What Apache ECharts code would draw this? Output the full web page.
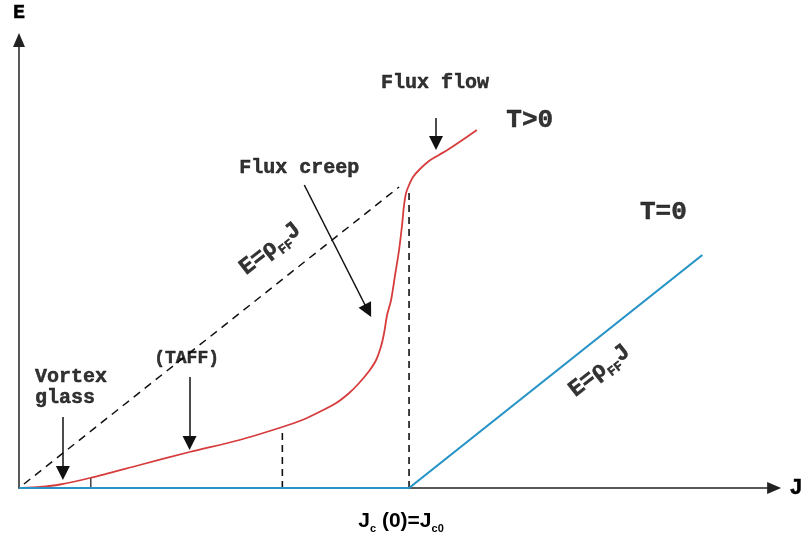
<!DOCTYPE html>
<html><head><meta charset="utf-8">
<script src="https://cdn.jsdelivr.net/npm/echarts@6/dist/echarts.min.js"></script>
<style>html,body{margin:0;padding:0;background:#fff}#c{width:806px;height:538px}</style>
</head><body><div id="c"></div>
<script>
// Schematic E–J characteristic of a type-II superconductor (arbitrary units)
const jc0 = 391;
const redJ = [3, 21, 41, 71, 121, 171, 221, 264, 284, 301, 318, 331, 341, 351, 358, 363, 366, 369, 373, 377, 381, 384, 386, 388, 391, 395, 401, 411, 421, 431, 446, 459];
const redE = [0, 1, 3.5, 10, 23, 36, 48, 61, 68, 76, 85, 95, 105, 117, 128, 142, 155, 173, 188, 213, 238, 263, 283, 295, 303, 311, 318, 327, 333, 339, 349, 358];
const blueJ = [0, 391, 685];
const blueE = [0, 0, 233];
const ffJ = [5, 381];
const ffE = [4, 301];
const dashJ = [264, 391];
const dashTop = [60, 296];
const tickJ = 72, tickTop = 10;
const arrowTail = [[44, 71], [171, 111], [286, 303], [418, 370]];
const arrowTip = [[44, 8], [171, 38], [353, 171], [418, 338]];
const noteText = ['Flux flow', 'T>0', 'Flux creep', 'T=0', '(TAFF)', 'Vortex\nglass', '{a|E=ρ}{b|FF}{a|J}', '{a|E=ρ}{b|FF}{a|J}'];
const noteJ = [417, 512, 281, 646, 168, 16, 252, 582];
const noteE = [405, 368, 320, 276, 130, 101, 239, 117];
const noteSize = [20, 26, 20, 26, 18, 20, 22, 22];
const noteRot = [0, 0, 0, 0, 0, 0, 38, 38];
const noteAlign = ['center', 'center', 'center', 'center', 'center', 'left', 'center', 'center'];

const mono = "'Liberation Mono','Courier New',monospace";
const sans = "'Liberation Sans',Arial,sans-serif";
const ink = '#000';

const chart = echarts.init(document.getElementById('c'));
const zip = (a, b) => a.map((v, i) => [v, b[i]]);
const headSize = 14;
const arrowData = arrowTail.map((t, i) => {
  const p = arrowTip[i];
  const dx = p[0] - t[0], dy = p[1] - t[1];
  const L = Math.hypot(dx, dy);
  const s = headSize / 2 / L;
  return { coords: [t, [p[0] - dx * s, p[1] - dy * s]] };
});
const bold = { textBorderColor: ink, textBorderWidth: 0.5 };

const series = [
  { type: 'line', data: zip(ffJ, ffE), showSymbol: false, silent: true,
    lineStyle: { color: '#111', width: 1.5, type: [8, 6] }, z: 2 },
  ...dashJ.map((j, i) => ({ type: 'line', data: [[j, 0], [j, dashTop[i]]], showSymbol: false, silent: true,
    lineStyle: { color: '#111', width: 1.6, type: [7, 5] }, z: 2 })),
  { type: 'line', data: [[tickJ, 0], [tickJ, tickTop]], showSymbol: false, silent: true,
    lineStyle: { color: '#111', width: 1.2 }, z: 2 },
  { type: 'line', data: zip(redJ, redE), showSymbol: false, smooth: 0.3, silent: true,
    lineStyle: { color: '#d63c3c', width: 1.8 }, z: 4 },
  { type: 'line', data: zip(blueJ, blueE), showSymbol: false, silent: true,
    lineStyle: { color: '#2793c6', width: 2.2 }, z: 5 },
  { type: 'lines', coordinateSystem: 'cartesian2d', data: arrowData, silent: true,
    symbol: ['none', 'triangle'], symbolSize: headSize,
    lineStyle: { color: '#111', width: 1.5, opacity: 1 }, itemStyle: { color: '#111' }, z: 6 },
  { type: 'scatter', symbolSize: 0, clip: false, silent: true, z: 7,
    data: noteText.map((t, i) => ({
      value: [noteJ[i], noteE[i]],
      label: Object.assign({
        show: true, position: 'inside', formatter: t, rotate: noteRot[i], align: noteAlign[i],
        fontFamily: mono, fontWeight: 'bold', fontSize: noteSize[i], color: ink, lineHeight: 21,
        rich: {
          a: Object.assign({ fontFamily: mono, fontWeight: 'bold', fontSize: 23, lineHeight: 30, color: ink }, bold),
          b: Object.assign({ fontFamily: mono, fontWeight: 'bold', fontSize: 13, lineHeight: 13, verticalAlign: 'bottom', color: ink }, bold)
        }
      }, bold)
    }))
  }
];

chart.setOption({
  animation: false,
  grid: { left: 19, right: 30, top: 40, bottom: 50 },
  xAxis: {
    type: 'value', min: 0, max: 757, name: 'J', nameLocation: 'end', nameGap: 22,
    nameTextStyle: Object.assign({ fontFamily: mono, fontWeight: 'bold', fontSize: 22, color: ink, align: 'center', verticalAlign: 'middle' }, bold),
    axisLine: { show: true, onZero: false, symbol: ['none', 'triangle'], symbolSize: [12, 14], lineStyle: { color: '#222', width: 1.5 } },
    axisTick: { show: false }, splitLine: { show: false },
    axisLabel: {
      show: true, customValues: [jc0], margin: 20,
      formatter: () => '{m|J}{s|c}{m| (0)=J}{t|c0}',
      rich: {
        m: { fontFamily: sans, fontWeight: 'bold', fontSize: 21, lineHeight: 26, color: ink },
        s: { fontFamily: sans, fontWeight: 'bold', fontSize: 11, lineHeight: 11, verticalAlign: 'bottom', color: ink },
        t: { fontFamily: sans, fontWeight: 'bold', fontSize: 11, lineHeight: 11, verticalAlign: 'bottom', color: ink, padding: [0, 16, 0, 0] }
      }
    }
  },
  yAxis: {
    type: 'value', min: 0, max: 448, name: 'E', nameLocation: 'end', nameGap: 27,
    nameTextStyle: Object.assign({ fontFamily: mono, fontWeight: 'bold', fontSize: 20, color: ink, align: 'center', verticalAlign: 'middle' }, bold),
    axisLine: { show: true, onZero: false, symbol: ['none', 'triangle'], symbolSize: [12, 14], lineStyle: { color: '#222', width: 1.5 } },
    axisTick: { show: false }, splitLine: { show: false }, axisLabel: { show: false }
  },
  series
});
</script></body></html>
